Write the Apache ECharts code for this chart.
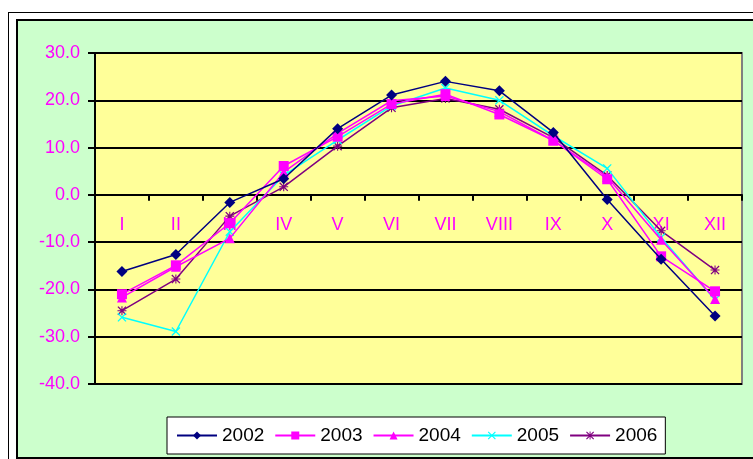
<!DOCTYPE html>
<html><head><meta charset="utf-8">
<script src="https://cdn.jsdelivr.net/npm/echarts@6/dist/echarts.min.js"></script>
<style>
html,body{margin:0;padding:0;background:#fff;width:753px;height:459px;overflow:hidden;}
#outer{position:absolute;left:8px;top:12px;width:800px;height:460px;border:1px solid #000;}
#inner{position:absolute;left:16px;top:19px;width:800px;height:436px;background:#CCFFCC;border:2px solid #000;}
#chart{position:absolute;left:0;top:0;width:753px;height:459px;}
</style></head>
<body>
<div id="outer"></div><div id="inner"></div>
<div id="chart"></div>
<script>
const categories = ['I','II','III','IV','V','VI','VII','VIII','IX','X','XI','XII'];
const seriesNames = ['2002','2003','2004','2005','2006'];
const s2002 = [-16.2,-12.6,-1.6,3.4,14.0,21.1,24.0,22.0,13.2,-1.0,-13.6,-25.6];
const s2003 = [-21.0,-14.9,-6.0,6.1,12.3,19.2,21.3,17.0,11.5,3.3,-13.0,-20.4];
const s2004 = [-21.7,-15.2,-9.2,4.8,13.0,19.9,20.9,17.6,11.5,3.8,-9.5,-22.0];
const s2005 = [-25.9,-28.9,-7.8,4.1,11.6,18.8,22.6,20.0,12.5,5.6,-9.0,-22.2];
const s2006 = [-24.5,-17.8,-4.5,1.7,10.3,18.4,20.4,18.1,12.1,4.1,-7.6,-15.9];
const yMin = -40, yMax = 30, yStep = 10;

const xPath = 'path://M0,1L1,0L5,4L9,0L10,1L6,5L10,9L9,10L5,6L1,10L0,9L4,5Z';
const starPath = 'path://M0,1L1,0L5,4L9,0L10,1L6,5L10,9L9,10L5,6L1,10L0,9L4,5Z M4.4,0L5.6,0L5.6,10L4.4,10Z M0,4.4L10,4.4L10,5.6L0,5.6Z';

const styles = [
  {data:s2002,color:'#000080',symbol:'diamond',size:11},
  {data:s2003,color:'#FF00FF',symbol:'rect',size:10},
  {data:s2004,color:'#FF00FF',symbol:'triangle',size:10},
  {data:s2005,color:'#00FFFF',symbol:xPath,size:9},
  {data:s2006,color:'#800080',symbol:starPath,size:9}
];

const gridTop = 53, gridBottom = 75, H = 459;
const plotH = H - gridTop - gridBottom;
const zeroOffset = -(plotH * (0 - yMin) / (yMax - yMin));

const chart = echarts.init(document.getElementById('chart'));
chart.setOption({
  backgroundColor:'transparent',
  animation:false,
  textStyle:{fontFamily:'Arial, "Liberation Sans", sans-serif'},
  grid:{left:95,top:gridTop,right:11,bottom:gridBottom,show:true,backgroundColor:'#FFFF99',borderColor:'#808080',borderWidth:2},
  legend:{
    data:seriesNames,
    left:167, top:417,
    backgroundColor:'#fff', borderColor:'#000', borderWidth:1,
    padding:[9,8,9,9],
    itemWidth:40, itemHeight:10, itemGap:10,
    textStyle:{color:'#000',fontSize:19,fontFamily:'Arial, "Liberation Sans", sans-serif'}
  },
  xAxis:{
    type:'category', data:categories, boundaryGap:true,
    position:'bottom', offset: zeroOffset,
    axisLine:{onZero:false,lineStyle:{color:'#000',width:2}},
    axisTick:{show:true,length:6,inside:false,lineStyle:{color:'#000',width:2}},
    axisLabel:{color:'#FF00FF',fontSize:18,margin:21,interval:0},
    splitLine:{show:false}
  },
  yAxis:{
    type:'value', min:yMin, max:yMax, interval:yStep,
    axisLine:{show:true,lineStyle:{color:'#000',width:2}},
    axisTick:{show:true,length:7,lineStyle:{color:'#000',width:2}},
    axisLabel:{color:'#FF00FF',fontSize:18,margin:15,formatter:v=>v.toFixed(1)},
    splitLine:{show:true,lineStyle:{color:'#000',width:2}}
  },
  series: styles.map((s,i)=>({
    name:seriesNames[i], type:'line', data:s.data,
    symbol:s.symbol, symbolSize:s.size,
    lineStyle:{color:s.color,width:1.5},
    itemStyle:{color:s.color},
    z: 10 - i
  }))
});
</script>
</body></html>
